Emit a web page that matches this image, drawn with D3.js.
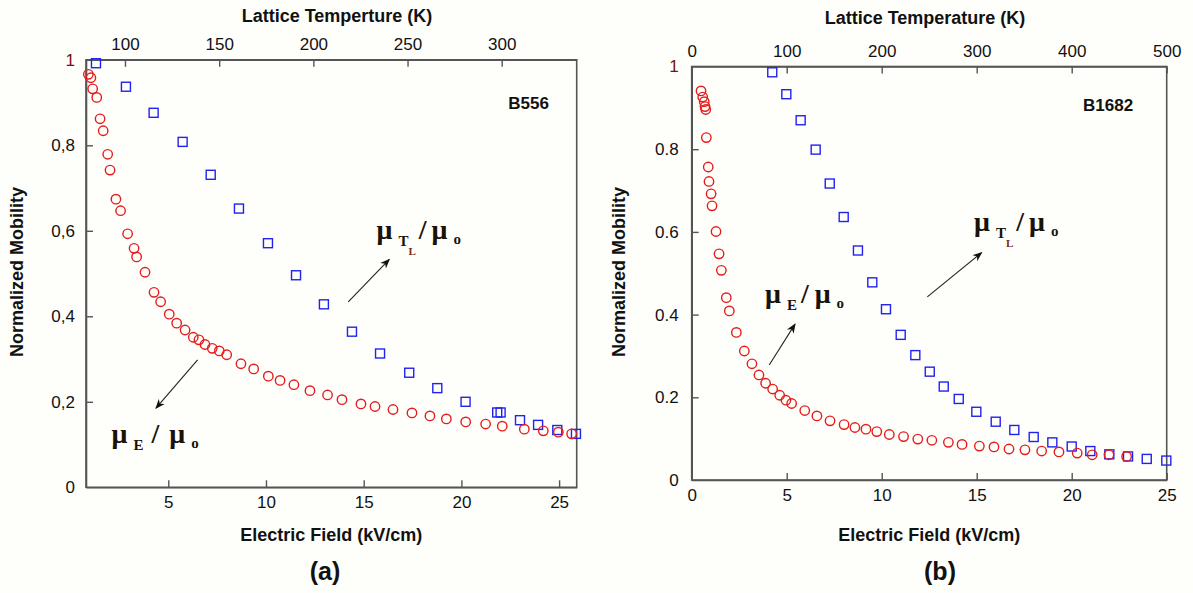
<!DOCTYPE html>
<html>
<head>
<meta charset="utf-8">
<script src="https://cdn.jsdelivr.net/npm/d3@7"></script>
<style>
  body { margin: 0; background: #fefefb; }
  svg { display: block; background: #fefefb; }
  .tick text { font-family: "Liberation Sans", Arial, sans-serif; font-size: 17px; fill: #111; }
  .tick line { stroke: #555; stroke-width: 1.4; }
  .domain { stroke: #555; stroke-width: 1.6; }
  .frame { fill: none; stroke: #555; stroke-width: 1.6; }
  .title { font-family: "Liberation Sans", Arial, sans-serif; font-weight: bold; font-size: 18px; fill: #111; }
  .sample { font-family: "Liberation Sans", Arial, sans-serif; font-weight: bold; font-size: 17px; fill: #111; }
  .panel { font-family: "Liberation Sans", Arial, sans-serif; font-weight: bold; font-size: 25px; fill: #111; }
  .mu { font-family: "Liberation Serif", "Times New Roman", serif; font-weight: bold; font-size: 28px; fill: #1a1208; }
  .mu .sub { font-size: 15px; }
  .mu .subsub { font-size: 11px; fill: #7a2a10; }
  .circ { fill: none; stroke: #e51c1c; stroke-width: 1.4; }
  .sq { fill: none; stroke: #2222f0; stroke-width: 1.4; }
</style>
</head>
<body>
<div id="chart"></div>
<script>
// ---- panel (a) B556 ----
const fieldA = [0.91, 1.04, 1.13, 1.34, 1.51, 1.67, 1.90, 2.02, 2.32, 2.56, 2.92, 3.25, 3.38, 3.81, 4.27,
  4.61, 5.05, 5.43, 5.86, 6.28, 6.57, 6.88, 7.25, 7.61, 7.99, 8.72, 9.37, 10.12, 10.72, 11.43, 12.25,
  13.15, 13.89, 14.86, 15.58, 16.50, 17.47, 18.39, 19.23, 20.22, 21.24, 22.09, 23.22, 24.19, 24.96, 25.64];
const muEA = [0.966, 0.958, 0.932, 0.912, 0.862, 0.834, 0.779, 0.742, 0.674, 0.647, 0.593, 0.559, 0.539, 0.503, 0.456,
  0.434, 0.405, 0.384, 0.368, 0.351, 0.345, 0.334, 0.325, 0.319, 0.310, 0.289, 0.277, 0.260, 0.250, 0.240, 0.226,
  0.216, 0.205, 0.195, 0.189, 0.182, 0.174, 0.167, 0.160, 0.153, 0.148, 0.143, 0.136, 0.132, 0.129, 0.125];
const tempA = [84.6, 100.5, 115.2, 130.6, 145.5, 160.5, 175.9, 190.8, 205.6, 220.5, 235.4, 250.9, 265.8, 280.8,
  297.6, 299.4, 309.7, 319.3, 329.5, 339.4];
const muTA = [0.992, 0.937, 0.876, 0.808, 0.731, 0.652, 0.571, 0.496, 0.428, 0.364, 0.313, 0.268, 0.232, 0.200,
  0.175, 0.175, 0.157, 0.146, 0.134, 0.125];
const fieldTicksA = [5, 10, 15, 20, 25];
const tempTicksA = [100, 150, 200, 250, 300];

// ---- panel (b) B1682 ----
const fieldB = [0.49, 0.58, 0.66, 0.70, 0.74, 0.77, 0.87, 0.91, 1.02, 1.07, 1.28, 1.44, 1.56, 1.82, 1.98, 2.35,
  2.77, 3.17, 3.54, 3.89, 4.26, 4.63, 4.96, 5.26, 5.95, 6.59, 7.28, 8.02, 8.59, 9.17, 9.74, 10.40, 11.15,
  11.90, 12.64, 13.51, 14.23, 15.14, 15.91, 16.70, 17.54, 18.42, 19.33, 20.29, 21.08, 21.96, 22.89];
const muEB = [0.941, 0.926, 0.915, 0.903, 0.896, 0.828, 0.757, 0.722, 0.692, 0.663, 0.601, 0.547, 0.507, 0.441, 0.409, 0.357,
  0.312, 0.281, 0.254, 0.234, 0.220, 0.205, 0.193, 0.185, 0.168, 0.155, 0.143, 0.134, 0.127, 0.123, 0.117, 0.110, 0.105,
  0.099, 0.096, 0.091, 0.086, 0.082, 0.080, 0.075, 0.073, 0.070, 0.068, 0.065, 0.061, 0.061, 0.057];
const tempB = [84.8, 99.6, 114.7, 130.5, 145.3, 160, 175, 190.1, 204.5, 220, 235.4, 250.6, 265.3, 281.1, 299.6,
  320, 339.6, 360, 379.6, 400, 419.6, 439.6, 459.3, 479, 499.6];
const muTB = [0.986, 0.933, 0.870, 0.799, 0.717, 0.636, 0.555, 0.478, 0.413, 0.351, 0.302, 0.262, 0.226, 0.196, 0.165,
  0.141, 0.121, 0.104, 0.091, 0.081, 0.070, 0.062, 0.057, 0.051, 0.047];
const fieldTicksB = [0, 5, 10, 15, 20, 25];
const tempTicksB = [0, 100, 200, 300, 400, 500];

const mobTicks = [0, 0.2, 0.4, 0.6, 0.8, 1];

const svg = d3.select("#chart").append("svg").attr("width", 1193).attr("height", 593);

function muLabel(g, x, y, sub, subsub, gap) {
    const t = g.append("text").attr("class", "mu").attr("x", x).attr("y", y);
    t.append("tspan").text("μ");
    t.append("tspan").attr("class", "sub").attr("dx", 6).attr("dy", 7).text(sub);
    if (subsub) {
        t.append("tspan").attr("class", "subsub").attr("dx", 0).attr("dy", 9).text(subsub);
        t.append("tspan").attr("dx", 3).attr("dy", -16).text("/");
    } else {
        t.append("tspan").attr("dx", gap).attr("dy", -7).text("/");
    }
    t.append("tspan").attr("dx", gap + 2).text("μ");
    t.append("tspan").attr("class", "sub").attr("dx", 6).attr("dy", 5).text("o");
}

function arrow(g, x1, y1, x2, y2) {
    g.append("line").attr("x1", x1).attr("y1", y1).attr("x2", x2).attr("y2", y2)
        .attr("stroke", "#222").attr("stroke-width", 1.1).attr("marker-end", "url(#head)");
}

svg.append("defs").append("marker")
    .attr("id", "head").attr("viewBox", "0 0 10 10").attr("refX", 9).attr("refY", 5)
    .attr("markerWidth", 9).attr("markerHeight", 9).attr("orient", "auto")
    .append("path").attr("d", "M0,1 L10,5 L0,9 L3,5 Z").attr("fill", "#111");

function drawPanel(p) {
    const g = svg.append("g");
    const x = d3.scaleLinear().domain(p.fieldDomain).range([p.left, p.right]);
    const xT = d3.scaleLinear().domain(p.tempDomain).range([p.left, p.right]);
    const y = d3.scaleLinear().domain([0, 1]).range([p.bottom, p.top]);

    g.append("g").attr("transform", `translate(0,${p.bottom})`)
        .call(d3.axisBottom(x).tickValues(p.fieldTicks).tickSize(-7).tickSizeOuter(0).tickPadding(9).tickFormat(d3.format("d")));
    g.append("g").attr("transform", `translate(0,${p.top})`)
        .call(d3.axisTop(xT).tickValues(p.tempTicks).tickSize(-7).tickSizeOuter(0).tickPadding(10).tickFormat(d3.format("d")));
    const ya = g.append("g").attr("transform", `translate(${p.left},0)`)
        .call(d3.axisLeft(y).tickValues(mobTicks).tickSize(-7).tickSizeOuter(0).tickPadding(p.ypad).tickFormat(p.yfmt));
    ya.selectAll(".tick text").filter(d => d === 1).style("fill", "#7a1010");
    ya.selectAll(".tick line").filter(d => d === 0 || d === 1).remove();

    g.append("rect").attr("class", "frame")
        .attr("x", p.left).attr("y", p.top).attr("width", p.right - p.left).attr("height", p.bottom - p.top);

    // squares: mobility vs lattice temperature (top axis)
    g.append("g").selectAll("rect").data(d3.zip(p.temp, p.muT)).join("rect")
        .attr("class", "sq")
        .attr("x", d => xT(d[0]) - 4.5).attr("y", d => y(d[1]) - 4.5)
        .attr("width", 9).attr("height", 9);

    // circles: mobility vs electric field (bottom axis)
    g.append("g").selectAll("circle").data(d3.zip(p.field, p.muE)).join("circle")
        .attr("class", "circ")
        .attr("cx", d => x(d[0])).attr("cy", d => y(d[1])).attr("r", 4.7);

    // titles
    g.append("text").attr("class", "title").attr("text-anchor", "middle")
        .attr("x", p.topTitleX).attr("y", p.topTitleY).text(p.topTitle);
    g.append("text").attr("class", "title").attr("text-anchor", "middle")
        .attr("x", (p.left + p.right) / 2).attr("y", 541).text("Electric Field (kV/cm)");
    g.append("text").attr("class", "title").attr("text-anchor", "middle")
        .attr("transform", `translate(${p.yTitleX},${272}) rotate(-90)`).text("Normalized Mobility");
    g.append("text").attr("class", "sample").attr("x", x(p.sampleAt[0])).attr("y", y(p.sampleAt[1])).text(p.sample);
    g.append("text").attr("class", "panel").attr("text-anchor", "middle")
        .attr("x", p.panelX).attr("y", 580).text(p.panel);

    // annotations
    muLabel(g, x(p.tlText[0]), y(p.tlText[1]), "T", "L", 3);
    arrow(g, x(p.tlArrow[0]), y(p.tlArrow[1]), x(p.tlArrow[2]), y(p.tlArrow[3]));
    muLabel(g, x(p.eText[0]), y(p.eText[1]), "E", null, p.eGap);
    arrow(g, x(p.eArrow[0]), y(p.eArrow[1]), x(p.eArrow[2]), y(p.eArrow[3]));
}

drawPanel({
    left: 86, right: 576.7, top: 59.8, bottom: 487.3,
    fieldDomain: [0.79, 25.9], tempDomain: [79.3, 339.8],
    fieldTicks: fieldTicksA, tempTicks: tempTicksA,
    yfmt: d => (d === 0 || d === 1) ? String(d) : d.toFixed(1).replace(".", ","), ypad: 11,
    field: fieldA, muE: muEA, temp: tempA, muT: muTA,
    topTitle: "Lattice Temperture (K)", topTitleX: 337, topTitleY: 22,
    yTitleX: 23, sample: "B556", sampleAt: [22.4, 0.885],
    panel: "(a)", panelX: 325,
    tlText: [15.66, 0.581], tlArrow: [14.21, 0.434, 16.31, 0.533],
    eText: [2.10, 0.104], eArrow: [6.50, 0.298, 4.37, 0.185], eGap: 8
});

drawPanel({
    left: 691.7, right: 1166.7, top: 66.5, bottom: 480,
    fieldDomain: [0, 25], tempDomain: [0, 500],
    fieldTicks: fieldTicksB, tempTicks: tempTicksB,
    yfmt: d => (d === 0 || d === 1) ? String(d) : d.toFixed(1), ypad: 13,
    field: fieldB, muE: muEB, temp: tempB, muT: muTB,
    topTitle: "Lattice Temperature (K)", topTitleX: 925, topTitleY: 24,
    yTitleX: 625, sample: "B1682", sampleAt: [20.6, 0.893],
    panel: "(b)", panelX: 940,
    tlText: [14.86, 0.603], tlArrow: [12.40, 0.443, 15.26, 0.550],
    eText: [3.86, 0.427], eArrow: [4.08, 0.278, 5.44, 0.377], eGap: 4
});
</script>
</body>
</html>
